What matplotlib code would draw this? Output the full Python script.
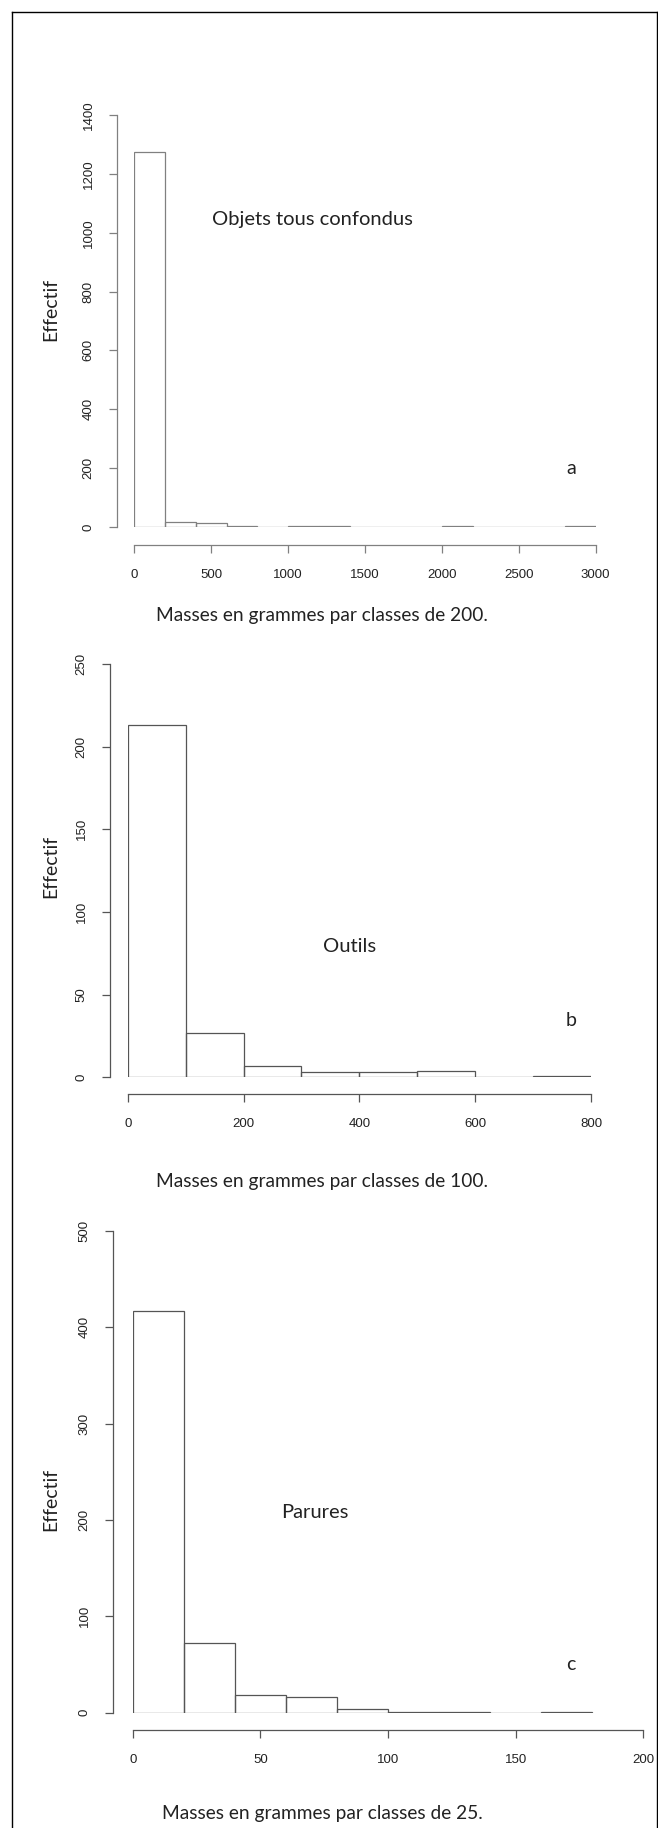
import numpy as np
import matplotlib
matplotlib.use('Agg')
import matplotlib.pyplot as plt
from matplotlib.lines import Line2D

# bin edges and counts
a_edges = np.arange(0, 3001, 200)
a_counts = [1275, 18, 13, 5, 0, 3, 4, 0, 0, 0, 2, 0, 0, 0, 2]
a_xticks = [0, 500, 1000, 1500, 2000, 2500, 3000]
a_yticks = [0, 200, 400, 600, 800, 1000, 1200, 1400]

b_edges = np.arange(0, 801, 100)
b_counts = [213, 27, 7, 3, 3, 4, 0, 1]
b_xticks = [0, 200, 400, 600, 800]
b_yticks = [0, 50, 100, 150, 200, 250]

c_edges = np.arange(0, 181, 20)
c_counts = [417, 72, 18, 16, 4, 1, 1, 0, 1]
c_xticks = [0, 50, 100, 150, 200]
c_yticks = [0, 100, 200, 300, 400, 500]

W, H = 658, 1828
DPI = 100
tick_font = 'Liberation Sans'
text_font = 'Lato'

fig = plt.figure(figsize=(W / DPI, H / DPI), dpi=DPI)

# frame around the figure (left, top, right)
fig.add_artist(Line2D([11.5 / W, 11.5 / W], [0, 1 - 11.5 / H], transform=fig.transFigure, color='black', lw=1.0))
fig.add_artist(Line2D([11.5 / W, 656.5 / W], [1 - 11.5 / H, 1 - 11.5 / H], transform=fig.transFigure, color='black', lw=1.0))
fig.add_artist(Line2D([656.5 / W, 656.5 / W], [0, 1 - 11.5 / H], transform=fig.transFigure, color='black', lw=1.0))


def panel(edges, counts, xticks, yticks, px, py, yaxis_x, xaxis_y, color,
          note, note_xy, letter_xy, xlab, xlab_y, ylab_y):
    x0, x1 = px
    y0, y1 = py  # pixel rows for y=0 and y=max
    ax = fig.add_axes([x0 / W, 1 - y0 / H, (x1 - x0) / W, (y0 - y1) / H])
    widths = np.diff(edges)
    ax.bar(edges[:-1], counts, width=widths, align='edge', fill=False,
           edgecolor=color, linewidth=0.9)
    ax.set_xlim(xticks[0], xticks[-1])
    ax.set_ylim(yticks[0], yticks[-1])
    for s in ['top', 'right']:
        ax.spines[s].set_visible(False)
    ax.spines['left'].set_position(('outward', (x0 - yaxis_x) * 72 / DPI))
    ax.spines['bottom'].set_position(('outward', (xaxis_y - y0) * 72 / DPI))
    ax.spines['left'].set_bounds(yticks[0], yticks[-1])
    ax.spines['bottom'].set_bounds(xticks[0], xticks[-1])
    for s in ['left', 'bottom']:
        ax.spines[s].set_color(color)
        ax.spines[s].set_linewidth(0.9)
    ax.set_xticks(xticks)
    ax.set_yticks(yticks)
    ax.tick_params(length=6, width=0.9, color=color, labelsize=9.5, labelcolor='#222222')
    ax.tick_params(axis='x', pad=11)
    ax.tick_params(axis='y', pad=10)
    for lab in ax.get_yticklabels():
        lab.set_rotation(90)
        lab.set_va('center')
        lab.set_family(tick_font)
    for lab in ax.get_xticklabels():
        lab.set_family(tick_font)
    ax.patch.set_alpha(0)

    fig.text(note_xy[0] / W, 1 - note_xy[1] / H, note, family=text_font,
             fontsize=14.5, color='#222222', ha='center', va='center')
    fig.text(letter_xy[0] / W, 1 - letter_xy[1] / H, letter_xy[2], family=text_font,
             fontsize=14, color='#222222', ha='center', va='center')
    fig.text(322 / W, 1 - xlab_y / H, xlab, family=text_font,
             fontsize=13.8, color='#222222', ha='center', va='center')
    fig.text(51 / W, 1 - ylab_y / H, 'Effectif', family=text_font,
             fontsize=14, color='#222222', ha='center', va='center', rotation=90)
    return ax


panel(a_edges, a_counts, a_xticks, a_yticks, (134.3, 595.7), (527, 115),
      116.7, 545, '#808080', 'Objets tous confondus', (312, 219),
      (571, 469, 'a'), 'Masses en grammes par classes de 200.', 616, 309)

panel(b_edges, b_counts, b_xticks, b_yticks, (127.7, 591), (1077.3, 664),
      109.7, 1094, '#555555', 'Outils', (350, 947),
      (571, 1021, 'b'), 'Masses en grammes par classes de 100.', 1181, 866)

panel(c_edges, c_counts, c_xticks, c_yticks, (132.7, 643.3), (1712.7, 1230.8),
      113, 1730, '#555555', 'Parures', (315, 1513),
      (571, 1665, 'c'), 'Masses en grammes par classes de 25.', 1814, 1499)

fig.savefig('out.png', dpi=DPI)
